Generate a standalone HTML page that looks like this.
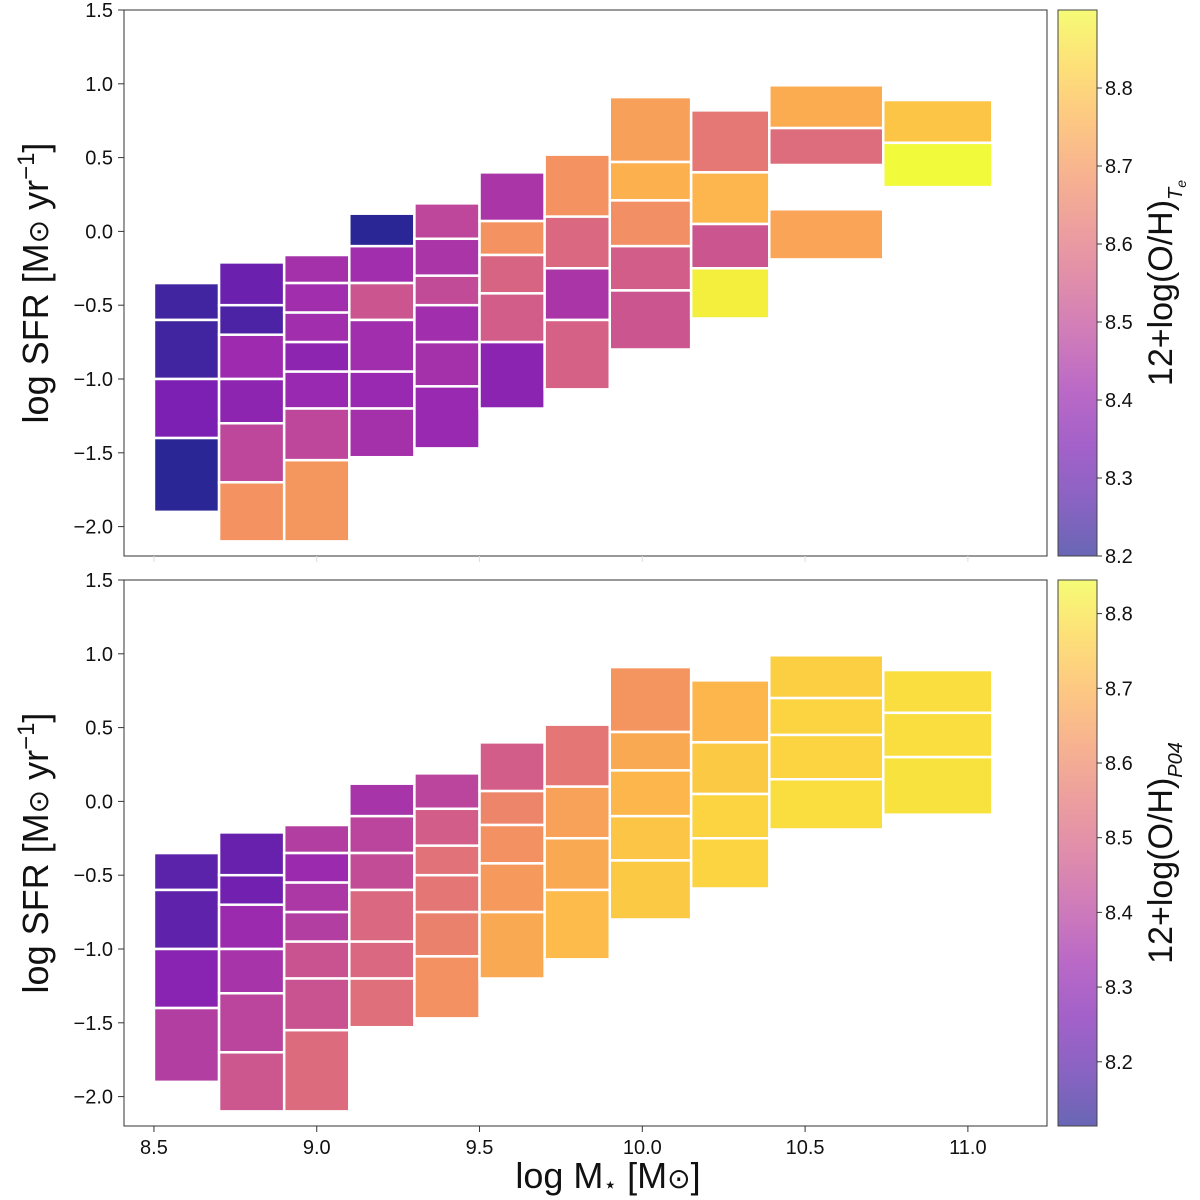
<!DOCTYPE html>
<html><head><meta charset="utf-8"><style>
html,body{margin:0;padding:0;background:#fff;}
svg{display:block;font-family:"Liberation Sans","DejaVu Sans",sans-serif;}
</style></head><body>
<svg id="chart" width="1200" height="1200" viewBox="0 0 1200 1200" xmlns="http://www.w3.org/2000/svg">
<defs>
<linearGradient id="plasmaV" x1="0" y1="1" x2="0" y2="0">
<stop offset="0" stop-color="#0d0887"/><stop offset="0.1" stop-color="#41049d"/><stop offset="0.2" stop-color="#6a00a8"/><stop offset="0.3" stop-color="#8f0da4"/><stop offset="0.4" stop-color="#b12a90"/><stop offset="0.5" stop-color="#cc4778"/><stop offset="0.6" stop-color="#e16462"/><stop offset="0.7" stop-color="#f2844b"/><stop offset="0.8" stop-color="#fca636"/><stop offset="0.9" stop-color="#fcce25"/><stop offset="1" stop-color="#f0f921"/>
</linearGradient>
</defs>
<g id="layer"></g>
</svg>
<script>
const massEdges = [8.5,8.7,8.9,9.1,9.3,9.5,9.7,9.9,10.15,10.39,10.74,11.075];
const sfrEdges = [
 [-0.35,-0.6,-1.0,-1.4,-1.9],
 [-0.21,-0.5,-0.7,-1.0,-1.3,-1.7,-2.1],
 [-0.16,-0.35,-0.55,-0.75,-0.95,-1.2,-1.55,-2.1],
 [0.12,-0.1,-0.35,-0.6,-0.95,-1.2,-1.53],
 [0.19,-0.05,-0.3,-0.5,-0.75,-1.05,-1.47],
 [0.4,0.07,-0.16,-0.42,-0.75,-1.2],
 [0.52,0.1,-0.25,-0.6,-1.07],
 [0.91,0.47,0.21,-0.1,-0.4,-0.8],
 [0.82,0.4,0.05,-0.25,-0.59],
 [0.99,0.7,0.45,0.15,-0.19],
 [0.89,0.6,0.3,-0.09]
];
const ohTe = [
 [8.235,8.235,8.34,8.20],
 [8.305,8.25,8.41,8.375,8.49,8.69],
 [8.43,8.42,8.42,8.375,8.40,8.49,8.70],
 [8.20,8.42,8.53,8.42,8.40,8.43],
 [8.49,8.44,8.50,8.42,8.43,8.40],
 [8.44,8.69,8.57,8.55,8.37],
 [8.69,8.58,8.44,8.56],
 [8.72,8.76,8.68,8.55,8.53],
 [8.62,8.77,8.53,8.88],
 [8.75,8.59,null,8.73],
 [8.80,8.90,null]
];
const ohP04 = [
 [8.19,8.20,8.29,8.39],
 [8.22,8.24,8.33,8.36,8.41,8.46],
 [8.39,8.33,8.37,8.39,8.45,8.45,8.52],
 [8.36,8.41,8.43,8.51,8.51,8.53],
 [8.41,8.48,8.54,8.55,8.58,8.62],
 [8.48,8.59,8.62,8.64,8.68],
 [8.55,8.66,8.68,8.72],
 [8.63,8.68,8.71,8.74,8.75],
 [8.71,8.75,8.77,8.77],
 [8.76,8.77,8.77,8.79],
 [8.79,8.79,8.80]
];
const xTicks = [8.5,9.0,9.5,10.0,10.5,11.0];
const yTicks = [1.5,1.0,0.5,0.0,-0.5,-1.0,-1.5,-2.0];
const cbTicksTe = [8.2,8.3,8.4,8.5,8.6,8.7,8.8];
const cbTicksP04 = [8.2,8.3,8.4,8.5,8.6,8.7,8.8];

const NS='http://www.w3.org/2000/svg';
const layer=document.getElementById('layer');
const stops=[[13,8,135],[65,4,157],[106,0,168],[143,13,164],[177,42,144],[204,71,120],[225,100,98],[242,132,75],[252,166,54],[252,206,37],[240,249,33]];
function plasma(t){t=Math.max(0,Math.min(1,t));const f=t*10,i=Math.min(9,Math.floor(f)),r=f-i;const a=stops[i],b=stops[i+1];
 return 'rgb('+a.map((v,k)=>Math.round(v+(b[k]-v)*r)).join(',')+')';}
function el(tag,attrs,parent){const e=document.createElementNS(NS,tag);for(const k in attrs)e.setAttribute(k,attrs[k]);(parent||layer).appendChild(e);return e;}
function fmt(v){return (v<0?'\u2212':'')+Math.abs(v).toFixed(1);}
const X0=124,X1=1047,xmin=8.408,xmax=11.243;
const xs=v=>X0+(v-xmin)/(xmax-xmin)*(X1-X0);

function panel(top,vals,cmin,cmax,cbTicks,name,sub){
 const bottom=top+546, ymax=1.5, ymin=1.5-546/147.6;
 const ys=v=>top+(ymax-v)/(ymax-ymin)*546;
 const g=el('g',{});
 
 
 for(let c=0;c<sfrEdges.length;c++){
  const e=sfrEdges[c];
  for(let j=0;j<e.length-1;j++){
   const v=vals[c][j]; if(v===null||v===undefined) continue;
   const r=el('rect',{x:xs(massEdges[c]),y:ys(e[j]),width:xs(massEdges[c+1])-xs(massEdges[c]),height:ys(e[j+1])-ys(e[j]),fill:plasma((v-cmin)/(cmax-cmin)),'fill-opacity':0.88,stroke:'#fff','stroke-width':2.5},g);
   
   
  }
 }
 const fr=el('rect',{x:X0,y:top,width:X1-X0,height:546,fill:'none',stroke:'#333','stroke-width':1},g);
 
 
 yTicks.forEach(t=>{const y=ys(t);
  el('line',{x1:X0-6,x2:X0,y1:y,y2:y,stroke:'#333'},g);
  const tx=el('text',{x:X0-11,y:y+7,'font-size':20,'text-anchor':'end',fill:'#111'},g);tx.textContent=fmt(t);
  
  
 });
 xTicks.forEach(t=>{const x=xs(t);el('line',{x1:x,x2:x,y1:bottom,y2:bottom+6,stroke:name==='top'?'#ddd':'#333'},g);
  if(name==='bottom'){const tx=el('text',{x:x,y:bottom+28,'font-size':20,'text-anchor':'middle',fill:'#111'},g);tx.textContent=t.toFixed(1);
   
   }
 });
 const yl=el('text',{transform:'translate(48,'+(top+273)+') rotate(-90)','font-size':36,'text-anchor':'middle',fill:'#111'},g);
 yl.innerHTML='log SFR [M<tspan font-size="28">\u2299</tspan> yr<tspan dy="-14" font-size="24">\u22121</tspan><tspan dy="14">]</tspan>';
 
 
 const CX=1058,CW=39;
 const cb=el('rect',{x:CX,y:top,width:CW,height:546,fill:'url(#plasmaV)','fill-opacity':0.62,stroke:'#444','stroke-width':1},g);
 
 
 cbTicks.forEach(t=>{const y=bottom-(t-cmin)/(cmax-cmin)*546;
  el('line',{x1:CX+CW,x2:CX+CW+5,y1:y,y2:y,stroke:'#333'},g);
  const tx=el('text',{x:CX+CW+8,y:y+7,'font-size':20,fill:'#111'},g);tx.textContent=t.toFixed(1);
  
  });
 const cl=el('text',{transform:'translate(1172,'+(top+273)+') rotate(-90)','font-size':34,'text-anchor':'middle',fill:'#111'},g);
 cl.innerHTML='12+log(O/H)<tspan dy="10" font-size="20" font-style="italic">'+sub+'</tspan>';
 
 
}
panel(10,ohTe,8.2,8.9,cbTicksTe,'top','T<tspan font-size="14" dy="4">e</tspan>');
panel(580,ohP04,8.114,8.845,cbTicksP04,'bottom','P04');
const xl=el('text',{x:608,y:1188,'font-size':36,'text-anchor':'middle',fill:'#111'});
xl.innerHTML='log M<tspan font-size="22" dy="4">\u22c6</tspan><tspan dy="-4"> [M</tspan><tspan font-size="28">\u2299</tspan>]';


</script>
</body></html>
